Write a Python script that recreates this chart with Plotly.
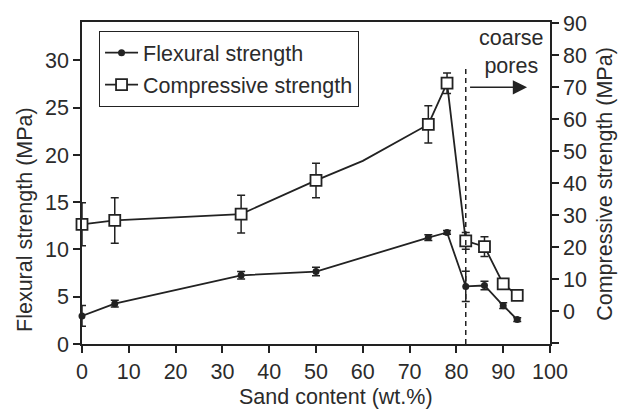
import plotly.graph_objects as go

# ---- data ----
sand_flex = [0, 7, 34, 50, 74, 78, 82, 86, 90, 93]
flexural = [2.97, 4.27, 7.27, 7.66, 11.26, 11.8, 6.09, 6.19, 4.06, 2.59]
flexural_err = [1.1, 0.35, 0.4, 0.45, 0.3, 0.2, 1.6, 0.45, 0.3, 0.2]

sand_comp = [0, 7, 34, 50, 74, 78, 82, 86, 90, 93]
compressive = [27.2, 28.4, 30.4, 40.9, 58.4, 71.3, 22.0, 20.2, 8.6, 5.0]
compressive_err = [6.7, 7.1, 5.9, 5.4, 5.8, 3.2, 2.6, 3.1, 0.5, 0.4]

# compressive curve as drawn (includes the unmarked vertex at 60 wt.%)
sand_comp_line = [0, 7, 34, 50, 60, 74, 78, 82, 86, 90, 93]
compressive_line = [27.2, 28.4, 30.4, 40.9, 47.0, 58.4, 71.3, 22.0, 20.2, 8.6, 5.0]

x_ticks = list(range(0, 101, 10))
left_ticks = [0, 5, 10, 15, 20, 25, 30]
right_ticks = [-10, 0, 10, 20, 30, 40, 50, 60, 70, 80, 90]
right_ticktext = [""] + [str(v) for v in right_ticks[1:]]

pore_threshold = 82

# ---- style ----
FONT = "Liberation Sans, Arial, Helvetica, sans-serif"
TXT = "#2b2b2b"
INK = "#222222"
FS = 21.5

fig = go.Figure()

# flexural
fig.add_trace(go.Scatter(
    x=sand_flex, y=flexural, mode="lines+markers", yaxis="y",
    line=dict(color=INK, width=1.8),
    marker=dict(symbol="circle", size=7, color=INK),
    error_y=dict(type="data", array=flexural_err, visible=True,
                 color=INK, thickness=1.5, width=4),
    name="Flexural strength", showlegend=False, cliponaxis=False,
))

# compressive line
fig.add_trace(go.Scatter(
    x=sand_comp_line, y=compressive_line, mode="lines", yaxis="y2",
    line=dict(color=INK, width=1.8), showlegend=False, hoverinfo="skip",
    cliponaxis=False,
))
# compressive markers + error bars
fig.add_trace(go.Scatter(
    x=sand_comp, y=compressive, mode="markers", yaxis="y2",
    marker=dict(symbol="square", size=11, color="white",
                line=dict(color=INK, width=1.8)),
    error_y=dict(type="data", array=compressive_err, visible=True,
                 color=INK, thickness=1.5, width=4),
    name="Compressive strength", showlegend=False, cliponaxis=False,
))

# legend entries
fig.add_trace(go.Scatter(
    x=[None], y=[None], mode="lines+markers", name="Flexural strength",
    line=dict(color=INK, width=1.8),
    marker=dict(symbol="circle", size=7, color=INK),
    legendgroup="a",
))
fig.add_trace(go.Scatter(
    x=[None], y=[None], mode="lines+markers", name="Compressive strength",
    line=dict(color=INK, width=1.8),
    marker=dict(symbol="square", size=11, color="white",
                line=dict(color=INK, width=1.8)),
    legendgroup="b",
))

axis_common = dict(
    showgrid=False, zeroline=False, showline=True, linecolor=INK, linewidth=1.5,
    ticks="outside", ticklen=7, tickwidth=1.5, tickcolor=INK,
    tickfont=dict(family=FONT, size=FS, color=TXT),
)

fig.update_layout(
    width=618, height=409,
    margin=dict(l=82, r=68, t=19, b=65),
    paper_bgcolor="white", plot_bgcolor="white",
    font=dict(family=FONT, size=FS, color=TXT),
    xaxis=dict(range=[0, 100], tickvals=x_ticks, mirror=True, **axis_common),
    yaxis=dict(range=[0, 34.07], tickvals=left_ticks, **axis_common),
    yaxis2=dict(range=[-10.2, 90.4], tickvals=right_ticks, ticktext=right_ticktext,
                overlaying="y", side="right", **axis_common),
    legend=dict(x=0.036, y=0.972, xanchor="left", yanchor="top",
                bordercolor=INK, borderwidth=1.2, bgcolor="white",
                font=dict(family=FONT, size=FS, color=TXT),
                traceorder="grouped", tracegroupgap=1, itemwidth=33),
    showlegend=True,
)

# dashed vertical line at the coarse-pore threshold
fig.add_shape(type="line", xref="x", yref="paper",
              x0=pore_threshold, x1=pore_threshold, y0=0, y1=0.855,
              line=dict(color=INK, width=1.5, dash="5px,4px"))

# arrow
fig.add_annotation(x=95.1, y=70, xref="x", yref="y2",
                   ax=82.6, ay=70, axref="x", ayref="y2",
                   showarrow=True, arrowhead=2, arrowsize=1.9, arrowwidth=1.5,
                   arrowcolor=INK, text="")
fig.add_annotation(x=91.7, y=0.906, xref="x", yref="paper",
                   text="coarse<br>pores", showarrow=False,
                   font=dict(family=FONT, size=FS, color=TXT),
                   xanchor="center", yanchor="middle")

# axis titles
fig.add_annotation(x=0.543, y=-0.166, xref="paper", yref="paper",
                   text="Sand content (wt.%)", showarrow=False,
                   font=dict(family=FONT, size=FS, color=TXT),
                   xanchor="center", yanchor="middle")
fig.add_annotation(x=-0.122, y=0.388, xref="paper", yref="paper",
                   text="Flexural strength (MPa)", showarrow=False, textangle=-90,
                   font=dict(family=FONT, size=FS, color=TXT),
                   xanchor="center", yanchor="middle")
fig.add_annotation(x=1.1185, y=0.499, xref="paper", yref="paper",
                   text="Compressive strength (MPa)", showarrow=False, textangle=-90,
                   font=dict(family=FONT, size=FS, color=TXT),
                   xanchor="center", yanchor="middle")

fig.write_html("out.html", config={"displayModeBar": False},
               post_script="document.body.style.margin='0';document.body.style.overflow='hidden';")
